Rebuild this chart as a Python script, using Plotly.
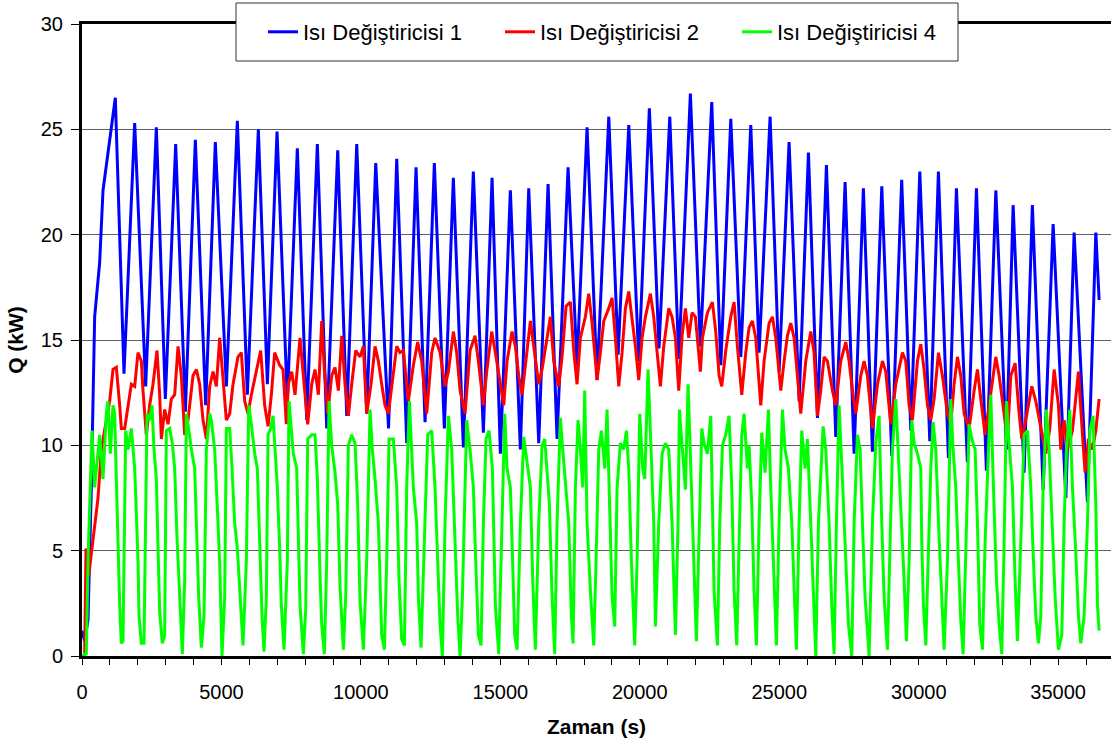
import plotly.graph_objects as go

# ---- data (time in s, Q in kW) ----
blue_t = [0, 96, 215, 335, 454, 634, 753, 932, 1052, 1195, 1506, 1889, 2283, 2666, 2988, 3359, 3706, 4064, 4435,
          4781, 5176, 5570, 5929, 6323, 6646, 6993, 7363, 7721, 8057, 8439, 8775, 9169, 9493, 9851, 10209, 10532,
          10991, 11285, 11644, 11977, 12300, 12634, 12992, 13315, 13674, 14032, 14391, 14703, 15001, 15359, 15718,
          16018, 16377, 16711, 17033, 17428, 17750, 18109, 18467, 18888, 19222, 19605, 19964, 20343, 20688, 21075,
          21397, 21814, 22172, 22580, 22904, 23262, 23621, 23979, 24278, 24672, 24995, 25353, 25712, 26047, 26370,
          26692, 27027, 27361, 27684, 28017, 28340, 28677, 29035, 29390, 29717, 30040, 30398, 30707, 31066, 31353,
          31746, 32070, 32427, 32766, 33146, 33386, 33780, 34076, 34462, 34820, 35276, 35573, 36050, 36351, 36469]
blue_q = [1.2, 0.7, 1.7, 8.0, 16.1, 18.7, 22.1, 23.8, 25.1, 26.5, 13.4, 25.3, 12.8, 25.1, 12.2, 24.3, 11.6, 24.5,
          11.9, 24.4, 12.8, 25.4, 12.4, 25.0, 12.9, 24.9, 12.1, 24.1, 11.2, 24.3, 10.8, 24.0, 11.4, 24.3, 11.5, 23.4,
          10.8, 23.6, 10.1, 23.2, 11.1, 23.4, 10.8, 22.7, 9.9, 23.0, 10.6, 22.7, 9.6, 22.1, 9.8, 22.2, 10.1, 22.4,
          10.3, 23.2, 13.8, 25.1, 13.1, 25.6, 14.3, 25.2, 14.0, 26.0, 14.6, 25.6, 14.1, 26.7, 14.7, 26.3, 13.8, 25.5,
          14.2, 25.2, 14.4, 25.6, 13.5, 24.4, 12.1, 23.9, 11.3, 23.3, 10.4, 22.5, 9.6, 22.2, 9.7, 22.3, 9.5, 22.6,
          10.7, 23.0, 10.2, 23.0, 9.4, 22.2, 9.2, 22.2, 8.8, 22.1, 9.8, 21.4, 8.7, 21.4, 7.9, 20.5, 7.5, 20.1, 7.3,
          20.1, 16.9]

red_t = [96, 143, 239, 359, 478, 574, 693, 873, 992, 1112, 1231, 1351, 1410, 1530, 1650, 1769, 1889, 2008, 2128,
         2187, 2307, 2426, 2546, 2689, 2785, 2845, 2964, 3084, 3203, 3323, 3443, 3562, 3682, 3801, 3980, 4100, 4219,
         4339, 4459, 4578, 4698, 4817, 4937, 5056, 5176, 5295, 5415, 5594, 5714, 5833, 5953, 6072, 6251, 6407, 6550,
         6670, 6789, 6909, 7088, 7208, 7327,
         7399, 7519, 7638, 7817, 7937, 8092, 8236, 8355, 8475, 8594, 8690, 8810, 8953, 9073, 9192, 9312, 9431, 9551,
         9670, 9814, 9969, 10089, 10208, 10363, 10507, 10626, 10746, 10865, 10985, 11164, 11284, 11403, 11523,
         11702, 11881, 12037, 12180, 12360, 12539, 12658, 12838, 13017, 13137, 13316, 13435, 13555, 13734, 13914,
         14093, 14212, 14392, 14511, 14691,
         14822, 14942, 15121, 15240, 15420, 15539, 15659, 15778, 15898, 16077, 16197, 16376, 16496, 16675, 16794,
         16914, 17093, 17213, 17356, 17512, 17631, 17751, 17870, 18049, 18169, 18289, 18468, 18587, 18707, 18886,
         19006, 19125, 19245, 19364, 19484, 19603, 19723, 19842, 19962, 20081, 20201, 20380, 20500, 20619, 20739,
         20858, 21038, 21157, 21277, 21396, 21516, 21635, 21755, 21874, 21994, 22173,
         22245, 22424, 22604, 22723, 22843, 22938, 23082, 23261, 23381, 23500, 23656, 23799, 23919, 24038, 24158,
         24337, 24456, 24636, 24755, 24875, 25054, 25174, 25293, 25413, 25532, 25652, 25771, 25951, 26130, 26249,
         26369, 26488, 26608, 26727, 26907, 27026, 27206, 27385, 27504, 27624, 27744, 27923, 28042, 28162, 28341,
         28521, 28700, 28819, 28999, 29178,
         29417, 29537, 29656, 29776, 29955, 30075, 30194, 30314, 30433, 30553, 30708, 30851, 31031, 31150, 31270,
         31389, 31509, 31628, 31808, 31987, 32107, 32226, 32381, 32525, 32764, 32884, 33063, 33182, 33302, 33457,
         33601, 33696, 33840, 34055, 34198, 34318, 34557, 34700, 34856, 35011, 35095, 35214, 35334, 35513, 35728,
         35872, 35967, 36087, 36230, 36350, 36469]
red_q = [0.1, 5.1, 3.8, 5.1, 6.6, 7.5, 9.8, 11.2, 12.1, 13.6, 13.7, 11.9, 10.8, 10.8, 11.9, 12.9, 12.8, 14.4, 14.0,
         12.6, 10.5, 11.9, 12.9, 14.5, 12.4, 10.3, 11.7, 11.0, 12.2, 12.4, 14.7, 13.3, 10.5, 11.2, 13.3, 13.6, 12.9,
         11.2, 10.3, 12.8, 13.5, 12.8, 15.1, 13.3, 11.2, 11.5, 12.9, 14.2, 14.4, 12.1, 11.5, 12.4, 13.6, 14.5, 11.9,
         10.9, 12.4, 14.4, 13.8, 13.6, 11.0,
         12.9, 13.5, 12.4, 15.1, 13.3, 11.0, 12.9, 13.6, 12.4, 15.9, 13.6, 11.5, 13.3, 13.7, 12.6, 15.2, 12.9, 11.4,
         12.9, 14.5, 14.2, 14.7, 11.5, 12.9, 14.7, 14.0, 12.9, 11.9, 11.5, 13.5, 14.7, 14.4, 14.5, 12.1, 13.8, 14.9,
         14.0, 11.5, 14.4, 15.1, 14.4, 12.8, 13.5, 15.4, 14.4, 12.6, 11.5, 14.5, 15.2, 14.0, 11.9, 13.5, 15.4,
         14.4, 13.3, 11.9, 14.0, 15.4, 14.7, 13.3, 12.4, 13.8, 15.9, 14.7, 12.9, 13.6, 15.2, 16.1, 14.0, 12.8, 14.2,
         16.6, 16.8, 14.5, 12.9, 15.1, 16.1, 17.2, 15.8, 13.1, 14.4, 15.9, 16.5, 17.0, 15.1, 12.8, 14.4, 16.5, 17.3,
         16.1, 14.7, 13.1, 15.1, 16.1, 17.2, 16.1, 14.4, 12.8, 14.7, 16.5, 16.1, 15.1, 12.6, 15.2, 16.5, 15.1, 16.3,
         16.1, 13.5,
         15.1, 16.3, 16.8, 15.4, 13.3, 12.8, 14.5, 16.1, 16.8, 14.7, 12.4, 14.4, 15.6, 15.9, 15.1, 11.9, 14.0, 15.8,
         16.1, 15.1, 12.6, 14.0, 15.2, 15.8, 15.1, 13.3, 11.5, 14.0, 15.4, 14.4, 11.4, 12.6, 14.2, 14.0, 12.6, 11.9,
         14.0, 14.9, 14.0, 12.6, 11.5, 13.3, 14.0, 13.3, 10.8, 12.9, 14.0, 13.5, 11.0, 12.9,
         14.4, 14.0, 11.9, 11.2, 14.0, 14.8, 13.6, 11.9, 11.2, 12.2, 14.4, 13.3, 11.5, 11.0, 12.9, 14.2, 13.3, 11.5,
         10.8, 12.6, 13.6, 12.2, 10.5, 11.9, 14.2, 13.3, 11.5, 10.3, 13.3, 13.9, 11.5, 10.3, 11.2, 12.8, 12.1, 11.2,
         9.6, 10.8, 13.6, 11.9, 9.8, 11.2, 9.8, 10.7, 13.5, 10.5, 8.7, 10.3, 9.8, 10.7, 12.2]

green_t = [0, 155, 215, 287, 359, 454, 574, 634, 753, 873, 932, 1016, 1112, 1171, 1231, 1291, 1351, 1410, 1470,
           1566, 1650, 1769, 1889, 1948, 2008, 2044, 2128, 2223, 2331, 2426, 2510, 2582, 2666, 2725, 2785, 2881,
           2964, 3024, 3144, 3239, 3323, 3407, 3502, 3598, 3682, 3742, 3825, 3921, 4040, 4100, 4184, 4279, 4375,
           4459, 4578, 4638, 4757, 4877, 4937, 5020, 5116, 5176, 5295, 5379, 5475, 5570, 5654, 5773, 5893, 5977,
           6072, 6192, 6287, 6371, 6455, 6526, 6610, 6670, 6765, 6849, 6933, 7004, 7088, 7148, 7244, 7363,
           7423, 7578, 7698, 7758, 7818, 7937, 8021, 8092, 8236, 8355, 8439, 8535, 8594, 8690, 8774, 8857, 8953,
           9073, 9168, 9252, 9371, 9455, 9551, 9670, 9790, 9885, 9969, 10089, 10208, 10328, 10411, 10507, 10626,
           10746, 10842, 10925, 11009, 11164, 11284, 11367, 11463, 11559, 11642, 11738, 11881, 12001, 12061, 12156,
           12300, 12395, 12539, 12658, 12754, 12838, 12921, 13017, 13137, 13256, 13376, 13471, 13555, 13639, 13734,
           13794, 13914, 14033, 14117, 14212, 14308, 14392, 14487, 14595, 14714,
           14822, 14942, 15061, 15157, 15240, 15360, 15420, 15515, 15599, 15719, 15838, 15958, 16077, 16161, 16256,
           16376, 16496, 16591, 16675, 16759, 16854, 16950, 17033, 17153, 17237, 17332, 17452, 17547, 17607, 17691,
           17786, 17870, 17954, 18025, 18109, 18229, 18348, 18432, 18528, 18623, 18743, 18826, 18910, 19006, 19101,
           19185, 19304, 19424, 19520, 19603, 19699, 19818, 19902, 19998, 20105, 20177, 20297, 20416, 20500, 20560,
           20679, 20799, 20918, 21038, 21157, 21277, 21372, 21420, 21540, 21635, 21731, 21850, 21934, 22030, 22137,
           22221, 22305, 22424, 22544, 22604, 22663, 22783, 22867, 22962, 23082, 23201, 23297, 23381, 23476, 23560,
           23656, 23739, 23859, 23919, 24014, 24098, 24181, 24277, 24373, 24492, 24612, 24695, 24779, 24899, 24994,
           25114, 25209, 25329, 25449, 25532, 25616, 25711, 25807, 25927, 26010, 26130, 26249, 26309, 26405, 26572,
           26668, 26787, 26883, 26966, 27050, 27146, 27265, 27361, 27481, 27600, 27684, 27803, 27899, 27983, 28078,
           28222, 28341, 28461, 28580, 28676, 28759, 28879, 28999, 29058, 29178,
           29298, 29417, 29477, 29561, 29656, 29752, 29835, 29955, 30075, 30110, 30170, 30254, 30350, 30433, 30517,
           30612, 30732, 30828, 30911, 31031, 31150, 31234, 31330, 31425, 31509, 31593, 31688, 31808, 31903, 32023,
           32107, 32190, 32286, 32381, 32501, 32585, 32680, 32788, 32884, 32979, 33063, 33146, 33242, 33362, 33457,
           33541, 33660, 33780, 33899, 34019, 34103, 34198, 34294, 34378, 34461, 34581, 34676, 34772, 34892, 35011,
           35131, 35214, 35298, 35418, 35513, 35633, 35728, 35812, 35932, 36051, 36135, 36254, 36350, 36410, 36469]
green_q = [0.0, 0.1, 4.5, 8.0, 10.7, 8.0, 9.8, 10.5, 8.4, 11.5, 12.1, 9.6, 11.9, 11.5, 8.4, 4.9, 2.4, 0.6, 0.7,
           10.7, 9.8, 10.8, 8.9, 6.8, 4.5, 1.9, 0.6, 0.6, 11.5, 11.2, 11.9, 9.8, 8.4, 5.2, 2.1, 0.6, 1.0, 10.7, 10.8,
           10.1, 8.9, 5.6, 2.8, 0.1, 3.6, 11.5, 10.8, 9.8, 8.9, 6.3, 2.8, 0.4, 1.9, 9.8, 11.5, 11.2, 9.8, 6.3, 4.4,
           0.0, 2.8, 10.8, 10.8, 8.9, 6.3, 5.1, 3.1, 0.5, 4.5, 11.9, 11.0, 9.6, 8.9, 5.1, 1.9, 0.2, 2.8, 10.5, 10.8,
           11.4, 9.8, 8.0, 5.1, 2.4, 0.3, 4.5,
           12.1, 9.6, 8.9, 5.4, 2.4, 0.1, 2.2, 10.3, 10.5, 10.5, 8.4, 3.8, 1.5, 0.1, 4.5, 12.1, 10.0, 8.7, 7.2, 3.3,
           0.3, 2.8, 10.0, 10.5, 10.1, 7.2, 2.6, 0.3, 4.5, 11.7, 9.8, 8.4, 6.3, 1.0, 0.3, 4.5, 10.3, 10.3, 8.0, 3.6,
           0.8, 0.5, 8.0, 12.1, 8.0, 6.3, 2.8, 0.4, 6.3, 10.5, 10.7, 8.0, 4.5, 1.5, 0.0, 6.3, 11.4, 9.8, 5.4, 1.9,
           0.0, 2.8, 8.0, 11.2, 9.8, 8.0, 4.5, 1.0, 0.5, 6.3, 10.3, 10.7, 8.9,
           2.4, 0.1, 6.3, 11.5, 8.9, 8.0, 5.4, 1.0, 0.3, 6.3, 10.4, 9.3, 8.0, 3.6, 0.3, 6.3, 10.0, 10.3, 8.9, 7.2,
           2.8, 0.1, 6.3, 11.3, 9.8, 8.4, 6.3, 1.9, 0.6, 8.0, 11.2, 9.8, 8.0, 12.6, 6.3, 3.1, 0.5, 4.5, 9.8, 10.7,
           8.9, 11.7, 7.2, 2.8, 1.4, 8.0, 10.1, 9.8, 10.7, 8.9, 4.5, 0.5, 4.5, 11.5, 8.9, 8.4, 13.6, 9.8, 6.3, 1.4,
           6.3, 9.6, 10.1, 9.8, 6.3, 1.0, 6.3, 11.7, 9.8, 7.9, 12.9, 8.0, 4.5, 0.7, 6.3,
           10.8, 10.1, 9.6, 11.4, 7.2, 3.1, 0.5, 6.3, 10.0, 10.5, 11.4, 8.0, 3.1, 0.5, 5.4, 10.5, 11.5, 8.9, 10.0,
           7.2, 3.1, 0.5, 6.3, 10.6, 8.7, 11.7, 8.0, 4.5, 0.5, 6.3, 11.7, 9.8, 8.9, 6.3, 2.8, 0.3, 6.3, 10.7, 8.9,
           10.3, 6.3, 1.9, 0.0, 6.3, 10.9, 9.8, 6.3, 2.4, 0.1, 6.3, 11.9, 8.4, 4.9, 1.5, 0.0, 6.3, 10.5, 9.8, 6.3,
           2.8, 0.0, 6.3, 10.1, 11.4, 6.3, 2.8, 0.3, 6.3, 9.8, 12.2,
           8.9, 5.4, 3.6, 0.7, 4.5, 11.2, 10.1, 9.6, 8.9, 5.4, 2.4, 0.5, 4.5, 8.9, 11.1, 9.8, 5.6, 2.8, 0.3, 4.5,
           12.2, 9.8, 8.0, 4.5, 1.7, 0.1, 4.5, 11.0, 10.3, 9.8, 6.3, 1.5, 0.3, 5.4, 9.8, 12.4, 8.0, 3.6, 1.5, 0.1,
           5.4, 12.1, 10.1, 8.0, 3.6, 0.7, 5.4, 10.5, 10.7, 8.0, 4.9, 1.9, 0.6, 1.9, 8.0, 11.7, 9.8, 6.3, 2.8, 0.3,
           1.0, 6.3, 9.8, 11.7, 8.0, 4.9, 1.9, 0.6, 1.9, 6.3, 10.7, 11.4, 7.2, 2.4, 1.2]

series_names = ["Isı Değiştiricisi 1", "Isı Değiştiricisi 2", "Isı Değiştiricisi 4"]
series_colors = ["#0000FF", "#FF0000", "#00FF00"]

x_ticks = [0, 5000, 10000, 15000, 20000, 25000, 30000, 35000]
y_ticks = [0, 5, 10, 15, 20, 25, 30]

assert len(blue_t) == len(blue_q), (len(blue_t), len(blue_q))
assert len(red_t) == len(red_q), (len(red_t), len(red_q))
assert len(green_t) == len(green_q), (len(green_t), len(green_q))

FONT = "Liberation Sans, Arial, sans-serif"

fig = go.Figure()
for t, q, name, col in zip([blue_t, red_t, green_t], [blue_q, red_q, green_q], series_names, series_colors):
    fig.add_trace(go.Scatter(x=t, y=q, mode="lines", name=name,
                             line=dict(color=col, width=3), hoverinfo="skip"))

# plot area: x 82..1111 px, y 24..656 px
W, H = 1111, 742
L, R, T, B = 82, 0, 24, 86
pw, ph = W - L - R, H - T - B


def px_x(p):
    return (p - L) / pw


def px_y(p):
    return (H - B - p) / ph


fig.update_layout(
    width=W, height=H,
    margin=dict(l=L, r=R, t=T, b=B, pad=0),
    paper_bgcolor="white", plot_bgcolor="white",
    font=dict(family=FONT, size=20, color="black"),
    showlegend=True,
    legend=dict(orientation="h", x=px_x(263), xanchor="left", y=px_y(32), yanchor="middle",
                bgcolor="rgba(0,0,0,0)", borderwidth=0, font=dict(size=22, family=FONT),
                entrywidth=192, entrywidthmode="pixels", itemwidth=30),
    shapes=[dict(type="rect", xref="paper", yref="paper", x0=px_x(236), x1=px_x(958),
                 y0=px_y(61), y1=px_y(3), fillcolor="white", line=dict(color="#333333", width=1),
                 layer="above")],
    xaxis=dict(range=[0, 36895], tickvals=x_ticks, ticktext=[str(v) for v in x_ticks],
               showgrid=False, zeroline=False, showline=True, linecolor="black", linewidth=3,
               mirror=True, ticks="outside", ticklen=6, tickwidth=1, tickcolor="black",
               minor=dict(dtick=1000, tick0=0, ticks="outside", ticklen=6, tickwidth=1, tickcolor="black",
                          showgrid=False),
               tickfont=dict(size=20), ticklabelstandoff=10,
               title=dict(text="<b>Zaman (s)</b>", font=dict(size=21), standoff=18)),
    yaxis=dict(range=[0, 30], tickvals=y_ticks, ticktext=[str(v) for v in y_ticks],
               showgrid=True, gridcolor="#606060", gridwidth=1, zeroline=False,
               showline=True, linecolor="black", linewidth=3,
               ticks="outside", ticklen=8, tickwidth=1, tickcolor="black",
               tickfont=dict(size=20), ticklabelstandoff=4,
               title=dict(text="<b>Q (kW)</b>", font=dict(size=21), standoff=12)),
)

fig.write_html("out.html", config={"displayModeBar": False},
               post_script="document.body.style.margin='0px';")
